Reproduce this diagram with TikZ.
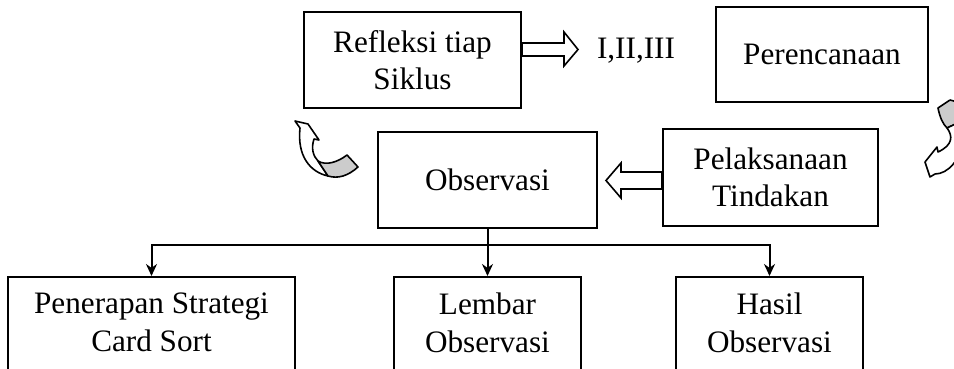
\documentclass[tikz,border=0pt]{standalone}
\usepackage{fontspec}
\setmainfont{Liberation Serif}
\usetikzlibrary{arrows.meta,calc}

\begin{document}
\begin{tikzpicture}[x=0.5pt,y=-0.5pt,>={Stealth[length=6pt,width=5.5pt]},
  every node/.style={font=\fontsize{15.6}{18.8}\selectfont},
  box/.style={draw,line width=1pt,align=center,inner sep=0pt},
  leaf/.style={box,anchor=north,inner ysep=8pt,text depth=45pt},
  link/.style={draw,line width=1pt},
  fat/.style={draw,line width=0.8pt,fill=white,line join=miter},
  swirl/.style={draw,line width=0.8pt,line join=round}]
  \useasboundingbox (0,0) rectangle (954,369);
  \clip (0,0) rectangle (954,369);
  % ---- cycle row ----
  \node[box,minimum width=108.5pt,minimum height=48pt] (refl)    at (412.5,60)  {Refleksi tiap\\Siklus};
  \node                                                (siklus)  at (636,51)    {I,II,III};
  \node[box,minimum width=106pt,minimum height=47.5pt] (rencana) at (822,54.5)  {Perencanaan};
  \node[box,minimum width=109.5pt,minimum height=48pt] (obs)     at (487.5,180) {Observasi};
  \node[box,minimum width=107.5pt,minimum height=48.5pt] (laksana) at (770.5,177.5) {Pelaksanaan\\Tindakan};
  \draw[fat] ($(refl.east)+(0,-17)$) -- ++(42,0) -- ++(0,-11) -- ++(14,17.5)
    -- ++(-14,16.5) -- ++(0,-10) -- ++(-42,0) -- cycle;
  \draw[fat] ($(laksana.west)+(0,-5.5)$) -- ++(-41,0) -- ++(0,-9) -- ++(-15,17.5)
    -- ++(15,17.5) -- ++(0,-9) -- ++(41,0) -- cycle;
  % curved arrows
  \draw[swirl,fill=white] (314,139) .. controls (311,148) and (313,156) .. (318,161)
    -- (328,176) .. controls (310,172) and (297,156) .. (300,128)
    -- (295,121) -- (308,124) -- (319,140) -- cycle;
  \draw[swirl,fill=gray!40] (318,161) .. controls (326,166) and (338,162) .. (347,155)
    -- (358,167) .. controls (348,176) and (338,179) .. (328,176) -- cycle;
  \draw[swirl,fill=gray!40] (950,100) -- (938,108) .. controls (940,118) and (943,124) .. (947,128)
    -- (964,120) -- (964,108) .. controls (960,104) and (956,101) .. (950,100);
  \draw[swirl,fill=white] (947,128) .. controls (953,136) and (953,145) .. (938,152)
    -- (937,147) -- (925,162) -- (930,177) -- (935,174)
    .. controls (948,174) and (960,160) .. (964,140) -- (964,120) -- cycle;
  % ---- results ----
  \node[leaf,minimum width=143.5pt] (strategi) at (151.5,276) {Penerapan Strategi\\Card Sort};
  \node[leaf,minimum width=93.5pt]  (lembar)   at (487.5,276) {Lembar\\Observasi};
  \node[leaf,minimum width=93.5pt]  (hasil)    at (769.5,276) {Hasil\\Observasi};
  \coordinate (split) at (obs.south |- 0,245);
  \draw[link] (obs.south) -- (split);
  \draw[link,->] (split) -| (strategi.north);
  \draw[link,->] (split) -- (lembar.north);
  \draw[link,->] (split) -| (hasil.north);
\end{tikzpicture}
\end{document}
